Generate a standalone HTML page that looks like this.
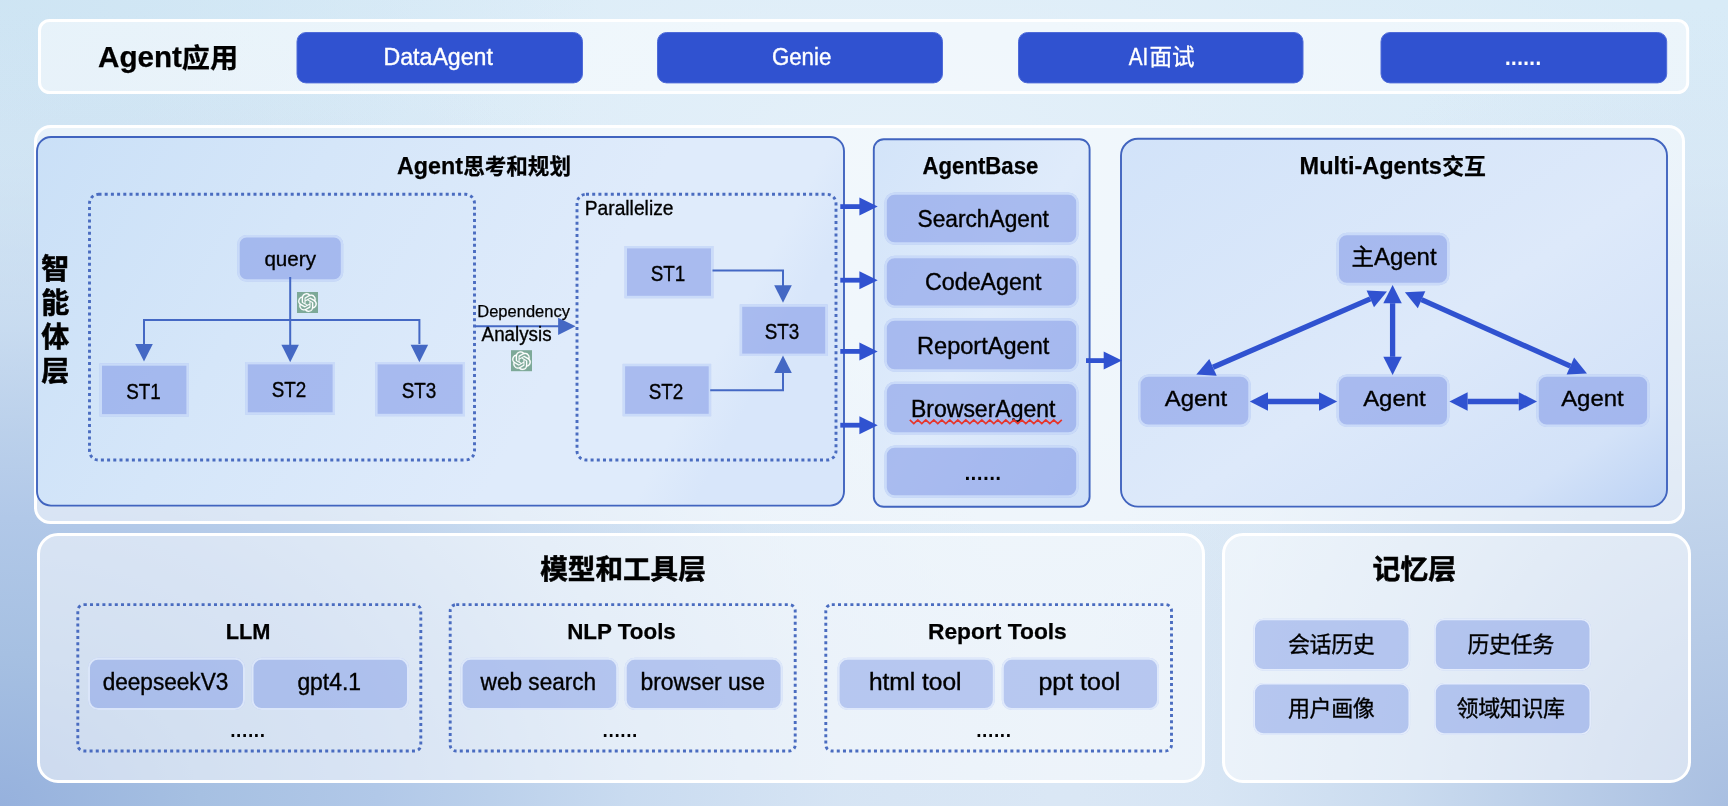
<!DOCTYPE html>
<html lang="zh"><head><meta charset="utf-8"><title>Agent Architecture</title>
<style>
html,body{margin:0;padding:0;}
body{width:1728px;height:806px;overflow:hidden;font-family:"Liberation Sans", "Noto Sans CJK SC", sans-serif;
background:
 radial-gradient(ellipse 1050px 800px at 0% 100%, rgba(150,177,221,1) 0%, rgba(166,192,226,1) 19%, rgba(177,200,232,1) 36%, rgba(184,206,234,0.9) 47%, rgba(194,214,238,0.7) 60%, rgba(205,222,241,0.3) 80%, rgba(215,230,245,0) 100%),
 radial-gradient(ellipse 650px 800px at 100% 100%, rgba(169,191,225,1) 0%, rgba(199,217,238,0.85) 50%, rgba(210,226,243,0.3) 80%, rgba(217,231,245,0) 100%),
 radial-gradient(ellipse 600px 500px at 0% 0%, rgba(205,228,243,0.9) 0%, rgba(210,231,245,0) 100%),
 radial-gradient(ellipse 800px 500px at 52% 20%, rgba(228,240,249,1) 0%, rgba(228,240,249,0) 100%),
 linear-gradient(180deg,#d8ebf7 0%,#dbeaf6 40%,#dae7f5 100%);}
svg{display:block;position:absolute;left:0;top:0;will-change:transform;}
</style></head><body>
<svg width="1728" height="806" viewBox="0 0 1728 806" font-family='"Liberation Sans", "Noto Sans CJK SC", sans-serif'>
<defs>
<linearGradient id="gPlan" x1="0" y1="0" x2="1" y2="0.25"><stop offset="0" stop-color="#cae0f7"/><stop offset="0.35" stop-color="#d5e6f9"/><stop offset="0.75" stop-color="#dfebfb"/><stop offset="0.93" stop-color="#dfebfb"/><stop offset="1" stop-color="#d8e6fa"/></linearGradient>
<linearGradient id="gBase" x1="0" y1="0" x2="1" y2="1"><stop offset="0" stop-color="#d3e4f9"/><stop offset="0.5" stop-color="#dfebfb"/><stop offset="1" stop-color="#cfe0f8"/></linearGradient>
<linearGradient id="gMulti" x1="0" y1="0" x2="1" y2="1"><stop offset="0" stop-color="#d2e3f9"/><stop offset="0.55" stop-color="#dde9fa"/><stop offset="0.85" stop-color="#d3e2f8"/><stop offset="1" stop-color="#bcd2f4"/></linearGradient>
<linearGradient id="gOuter" x1="0" y1="0" x2="1" y2="0"><stop offset="0" stop-color="#e4eefa" stop-opacity="0.9"/><stop offset="0.5" stop-color="#f1f6fc" stop-opacity="0.9"/><stop offset="1" stop-color="#e6eef9" stop-opacity="0.9"/></linearGradient>
<linearGradient id="gTop" x1="0" y1="0" x2="1" y2="0"><stop offset="0" stop-color="#e8f1fa"/><stop offset="0.5" stop-color="#eef4fc"/><stop offset="1" stop-color="#ecf3fb"/></linearGradient>
<linearGradient id="gBL" x1="0" y1="0" x2="1" y2="0"><stop offset="0" stop-color="#d9e6f5"/><stop offset="0.5" stop-color="#e9f0fa"/><stop offset="1" stop-color="#f0f5fc"/></linearGradient>
<linearGradient id="gMem" x1="0" y1="0" x2="1" y2="1"><stop offset="0" stop-color="#eef4fc"/><stop offset="0.6" stop-color="#e6eef9"/><stop offset="1" stop-color="#d9e5f5"/></linearGradient>
</defs>
<rect x="39.5" y="20.5" width="1648.2" height="72.0" rx="10" ry="10" fill="rgba(255,255,255,0.5)" stroke="#ffffff" stroke-width="3" />
<text font-weight="bold" fill="#000" stroke="#000" stroke-width="0.25"><tspan x="98.0" y="66.9" font-size="29.4" textLength="84.0" lengthAdjust="spacingAndGlyphs">Agent</tspan><tspan x="181.8" y="68.1" font-size="27.6" textLength="56.4" lengthAdjust="spacingAndGlyphs">应用</tspan></text>
<rect x="297.0" y="32.5" width="285.5" height="50.4" rx="9" ry="9" fill="#3052d0" stroke="#4f6bd8" stroke-width="1" />
<text x="438.2" y="65.0" font-size="23.5" font-weight="normal" fill="#fff" stroke="#fff" stroke-width="0.38" text-anchor="middle" textLength="109.5" lengthAdjust="spacingAndGlyphs" >DataAgent</text>
<rect x="657.5" y="32.5" width="285.0" height="50.4" rx="9" ry="9" fill="#3052d0" stroke="#4f6bd8" stroke-width="1" />
<text x="801.6" y="65.0" font-size="23.5" font-weight="normal" fill="#fff" stroke="#fff" stroke-width="0.38" text-anchor="middle" textLength="59.4" lengthAdjust="spacingAndGlyphs" >Genie</text>
<rect x="1018.5" y="32.5" width="284.5" height="50.4" rx="9" ry="9" fill="#3052d0" stroke="#4f6bd8" stroke-width="1" />
<text font-weight="normal" fill="#fff" stroke="#fff" stroke-width="0.35"><tspan x="1128.7" y="64.9" font-size="23.5" textLength="19.6" lengthAdjust="spacingAndGlyphs">AI</tspan><tspan x="1149.4" y="64.9" font-size="22.6">面试</tspan></text>
<rect x="1381.0" y="32.5" width="285.7" height="50.4" rx="9" ry="9" fill="#3052d0" stroke="#4f6bd8" stroke-width="1" />
<text x="1523.0" y="65.4" font-size="31" font-weight="normal" fill="#fff" stroke="#fff" stroke-width="0" text-anchor="middle" textLength="39.2" lengthAdjust="spacing" >......</text>
<rect x="35.5" y="126.5" width="1648.0" height="396.0" rx="15" ry="15" fill="rgba(255,255,255,0.5)" stroke="#ffffff" stroke-width="3" />
<rect x="37.0" y="137.0" width="807.0" height="368.6" rx="14" ry="14" fill="url(#gPlan)" stroke="#4164bf" stroke-width="1.9" />
<rect x="873.8" y="139.2" width="215.8" height="367.6" rx="10" ry="10" fill="url(#gBase)" stroke="#4164bf" stroke-width="1.9" />
<rect x="1121.0" y="138.8" width="546.0" height="367.8" rx="17" ry="17" fill="url(#gMulti)" stroke="#4164bf" stroke-width="1.9" />
<text font-weight="bold" fill="#000" stroke="#000" stroke-width="0.25"><tspan x="397.0" y="173.6" font-size="24" textLength="66.0" lengthAdjust="spacingAndGlyphs">Agent</tspan><tspan x="463.2" y="173.9" font-size="21.4" textLength="107.8" lengthAdjust="spacingAndGlyphs">思考和规划</tspan></text>
<text x="980.4" y="173.6" font-size="23.5" font-weight="bold" fill="#000" stroke="#000" stroke-width="0.25" text-anchor="middle" textLength="115.8" lengthAdjust="spacingAndGlyphs" >AgentBase</text>
<text font-weight="bold" fill="#000" stroke="#000" stroke-width="0.25"><tspan x="1299.6" y="173.6" font-size="24" textLength="142.3" lengthAdjust="spacingAndGlyphs">Multi-Agents</tspan><tspan x="1442.3" y="173.9" font-size="21.4" textLength="43.6" lengthAdjust="spacingAndGlyphs">交互</tspan></text>
<text font-size="28" font-weight="bold" fill="#000" stroke="#000" stroke-width="0.55" text-anchor="middle"><tspan x="55.3" y="278.5">智</tspan><tspan x="55.3" y="312.5">能</tspan><tspan x="55.3" y="346.5">体</tspan><tspan x="55.3" y="380.5">层</tspan></text>
<rect x="89.5" y="194.3" width="385.0" height="265.7" rx="9" ry="9" fill="none" stroke="#4a6cc0" stroke-width="2.9" stroke-dasharray="3 3.2"/>
<rect x="577.0" y="194.3" width="259.0" height="265.7" rx="9" ry="9" fill="none" stroke="#4a6cc0" stroke-width="2.9" stroke-dasharray="3 3.2"/>
<rect x="237.3" y="235.0" width="105.9" height="46.6" rx="9.2" ry="9.2" fill="rgba(126,150,230,0.56)" />
<rect x="238.5" y="236.2" width="103.5" height="44.2" rx="8" ry="8" fill="none" stroke="rgba(225,240,255,0.6)" stroke-width="2.4" />
<text x="290.2" y="266.2" font-size="20.5" font-weight="normal" fill="#000" stroke="#000" stroke-width="0.33" text-anchor="middle" textLength="51.6" lengthAdjust="spacingAndGlyphs" >query</text>
<path d="M290.2 277V345 M144 344V320H419.4V344" fill="none" stroke="#4468c4" stroke-width="2"/>
<path d="M135.2 344.0H152.8L144.0 361.5Z" fill="#4468c4"/>
<path d="M281.4 344.8H298.9L290.2 362.3Z" fill="#4468c4"/>
<path d="M410.6 344.8H428.1L419.4 362.3Z" fill="#4468c4"/>
<rect x="99.6" y="363.3" width="89.2" height="53.2" rx="0" ry="0" fill="rgba(126,150,230,0.56)" />
<rect x="100.8" y="364.5" width="86.8" height="50.8" rx="0" ry="0" fill="none" stroke="rgba(225,240,255,0.6)" stroke-width="2.4" />
<text x="143.5" y="399.0" font-size="22.5" font-weight="normal" fill="#000" stroke="#000" stroke-width="0.36" text-anchor="middle" textLength="34.6" lengthAdjust="spacingAndGlyphs" >ST1</text>
<rect x="245.4" y="362.0" width="89.6" height="52.7" rx="0" ry="0" fill="rgba(126,150,230,0.56)" />
<rect x="246.6" y="363.2" width="87.2" height="50.3" rx="0" ry="0" fill="none" stroke="rgba(225,240,255,0.6)" stroke-width="2.4" />
<text x="289.0" y="397.0" font-size="22.5" font-weight="normal" fill="#000" stroke="#000" stroke-width="0.36" text-anchor="middle" textLength="34.6" lengthAdjust="spacingAndGlyphs" >ST2</text>
<rect x="375.2" y="362.0" width="89.8" height="54.2" rx="0" ry="0" fill="rgba(126,150,230,0.56)" />
<rect x="376.4" y="363.2" width="87.4" height="51.8" rx="0" ry="0" fill="none" stroke="rgba(225,240,255,0.6)" stroke-width="2.4" />
<text x="419.0" y="398.0" font-size="22.5" font-weight="normal" fill="#000" stroke="#000" stroke-width="0.36" text-anchor="middle" textLength="34.6" lengthAdjust="spacingAndGlyphs" >ST3</text>
<path d="M475 326.3H560" fill="none" stroke="#4468c4" stroke-width="2"/>
<path d="M558.1 317.7V334.9L575.6 326.3Z" fill="#4468c4"/>
<text x="523.6" y="317.4" font-size="15.8" font-weight="normal" fill="#000" stroke="#000" stroke-width="0.25" text-anchor="middle" textLength="92.6" lengthAdjust="spacingAndGlyphs" >Dependency</text>
<text x="516.6" y="341.4" font-size="19.4" font-weight="normal" fill="#000" stroke="#000" stroke-width="0.31" text-anchor="middle" textLength="70.0" lengthAdjust="spacingAndGlyphs" >Analysis</text>
<text x="584.7" y="215.3" font-size="19.8" font-weight="normal" fill="#000" stroke="#000" stroke-width="0.32" text-anchor="start" textLength="88.8" lengthAdjust="spacingAndGlyphs" >Parallelize</text>
<rect x="624.6" y="246.0" width="88.8" height="52.2" rx="0" ry="0" fill="rgba(126,150,230,0.56)" />
<rect x="625.8" y="247.2" width="86.4" height="49.8" rx="0" ry="0" fill="none" stroke="rgba(225,240,255,0.6)" stroke-width="2.4" />
<text x="668.0" y="281.0" font-size="22.5" font-weight="normal" fill="#000" stroke="#000" stroke-width="0.36" text-anchor="middle" textLength="34.6" lengthAdjust="spacingAndGlyphs" >ST1</text>
<rect x="739.8" y="304.4" width="87.8" height="51.6" rx="0" ry="0" fill="rgba(126,150,230,0.56)" />
<rect x="741.0" y="305.6" width="85.4" height="49.2" rx="0" ry="0" fill="none" stroke="rgba(225,240,255,0.6)" stroke-width="2.4" />
<text x="782.0" y="339.0" font-size="22.5" font-weight="normal" fill="#000" stroke="#000" stroke-width="0.36" text-anchor="middle" textLength="34.6" lengthAdjust="spacingAndGlyphs" >ST3</text>
<rect x="622.7" y="363.9" width="88.4" height="52.3" rx="0" ry="0" fill="rgba(126,150,230,0.56)" />
<rect x="623.9" y="365.1" width="86.0" height="49.9" rx="0" ry="0" fill="none" stroke="rgba(225,240,255,0.6)" stroke-width="2.4" />
<text x="666.0" y="399.0" font-size="22.5" font-weight="normal" fill="#000" stroke="#000" stroke-width="0.36" text-anchor="middle" textLength="34.6" lengthAdjust="spacingAndGlyphs" >ST2</text>
<path d="M712.5 270.4H783V287 M710.2 390.2H783V372" fill="none" stroke="#4468c4" stroke-width="2"/>
<path d="M774.2 285.3H791.8L783.0 302.8Z" fill="#4468c4"/>
<path d="M774.2 373.1H791.8L783.0 355.6Z" fill="#4468c4"/>
<g transform="translate(297,292)"><rect width="21" height="21" fill="#7da998"/><path transform="translate(1.1,1.1) scale(0.7833)" fill="#fff" stroke="#fff" stroke-width="0.25" d="M22.2819 9.8211a5.9847 5.9847 0 0 0-.5157-4.9108 6.0462 6.0462 0 0 0-6.5098-2.9A6.0651 6.0651 0 0 0 4.9807 4.1818a5.9847 5.9847 0 0 0-3.9977 2.9 6.0462 6.0462 0 0 0 .7427 7.0966 5.98 5.98 0 0 0 .511 4.9107 6.051 6.051 0 0 0 6.5146 2.9001A5.9847 5.9847 0 0 0 13.2599 24a6.0557 6.0557 0 0 0 5.7718-4.2058 5.9894 5.9894 0 0 0 3.9977-2.9001 6.0557 6.0557 0 0 0-.7475-7.0729zm-9.022 12.6081a4.4755 4.4755 0 0 1-2.8764-1.0408l.1419-.0804 4.7783-2.7582a.7948.7948 0 0 0 .3927-.6813v-6.7369l2.02 1.1686a.071.071 0 0 1 .038.052v5.5826a4.504 4.504 0 0 1-4.4945 4.4944zm-9.6607-4.1254a4.4708 4.4708 0 0 1-.5346-3.0137l.142.0852 4.783 2.7582a.7712.7712 0 0 0 .7806 0l5.8428-3.3685v2.3324a.0804.0804 0 0 1-.0332.0615L9.74 19.9502a4.4992 4.4992 0 0 1-6.1408-1.6464zM2.3408 7.8956a4.485 4.485 0 0 1 2.3655-1.9728V11.6a.7664.7664 0 0 0 .3879.6765l5.8144 3.3543-2.0201 1.1685a.0757.0757 0 0 1-.071 0l-4.8303-2.7865A4.504 4.504 0 0 1 2.3408 7.872zm16.5963 3.8558L13.1038 8.364 15.1192 7.2a.0757.0757 0 0 1 .071 0l4.8303 2.7913a4.4944 4.4944 0 0 1-.6765 8.1042v-5.6772a.79.79 0 0 0-.407-.667zm2.0107-3.0231l-.142-.0852-4.7735-2.7818a.7759.7759 0 0 0-.7854 0L9.409 9.2297V6.8974a.0662.0662 0 0 1 .0284-.0615l4.8303-2.7866a4.4992 4.4992 0 0 1 6.6802 4.66zM8.3065 12.863l-2.02-1.1638a.0804.0804 0 0 1-.038-.0567V6.0742a4.4992 4.4992 0 0 1 7.3757-3.4537l-.142.0805L8.704 5.459a.7948.7948 0 0 0-.3927.6813zm1.0976-2.3654l2.602-1.4998 2.6069 1.4998v2.9994l-2.5974 1.4997-2.6067-1.4997Z"/></g>
<g transform="translate(511,350.2)"><rect width="21" height="21" fill="#7da998"/><path transform="translate(1.1,1.1) scale(0.7833)" fill="#fff" stroke="#fff" stroke-width="0.25" d="M22.2819 9.8211a5.9847 5.9847 0 0 0-.5157-4.9108 6.0462 6.0462 0 0 0-6.5098-2.9A6.0651 6.0651 0 0 0 4.9807 4.1818a5.9847 5.9847 0 0 0-3.9977 2.9 6.0462 6.0462 0 0 0 .7427 7.0966 5.98 5.98 0 0 0 .511 4.9107 6.051 6.051 0 0 0 6.5146 2.9001A5.9847 5.9847 0 0 0 13.2599 24a6.0557 6.0557 0 0 0 5.7718-4.2058 5.9894 5.9894 0 0 0 3.9977-2.9001 6.0557 6.0557 0 0 0-.7475-7.0729zm-9.022 12.6081a4.4755 4.4755 0 0 1-2.8764-1.0408l.1419-.0804 4.7783-2.7582a.7948.7948 0 0 0 .3927-.6813v-6.7369l2.02 1.1686a.071.071 0 0 1 .038.052v5.5826a4.504 4.504 0 0 1-4.4945 4.4944zm-9.6607-4.1254a4.4708 4.4708 0 0 1-.5346-3.0137l.142.0852 4.783 2.7582a.7712.7712 0 0 0 .7806 0l5.8428-3.3685v2.3324a.0804.0804 0 0 1-.0332.0615L9.74 19.9502a4.4992 4.4992 0 0 1-6.1408-1.6464zM2.3408 7.8956a4.485 4.485 0 0 1 2.3655-1.9728V11.6a.7664.7664 0 0 0 .3879.6765l5.8144 3.3543-2.0201 1.1685a.0757.0757 0 0 1-.071 0l-4.8303-2.7865A4.504 4.504 0 0 1 2.3408 7.872zm16.5963 3.8558L13.1038 8.364 15.1192 7.2a.0757.0757 0 0 1 .071 0l4.8303 2.7913a4.4944 4.4944 0 0 1-.6765 8.1042v-5.6772a.79.79 0 0 0-.407-.667zm2.0107-3.0231l-.142-.0852-4.7735-2.7818a.7759.7759 0 0 0-.7854 0L9.409 9.2297V6.8974a.0662.0662 0 0 1 .0284-.0615l4.8303-2.7866a4.4992 4.4992 0 0 1 6.6802 4.66zM8.3065 12.863l-2.02-1.1638a.0804.0804 0 0 1-.038-.0567V6.0742a4.4992 4.4992 0 0 1 7.3757-3.4537l-.142.0805L8.704 5.459a.7948.7948 0 0 0-.3927.6813zm1.0976-2.3654l2.602-1.4998 2.6069 1.4998v2.9994l-2.5974 1.4997-2.6067-1.4997Z"/></g>
<path d="M840.3 206.6H862" fill="none" stroke="#3052d0" stroke-width="4.8"/>
<path d="M859.4 197.6V215.6L877.7 206.6Z" fill="#3052d0"/>
<path d="M840.3 280.2H862" fill="none" stroke="#3052d0" stroke-width="4.8"/>
<path d="M859.4 271.2V289.2L877.7 280.2Z" fill="#3052d0"/>
<path d="M840.3 351.4H862" fill="none" stroke="#3052d0" stroke-width="4.8"/>
<path d="M859.4 342.4V360.4L877.7 351.4Z" fill="#3052d0"/>
<path d="M840.3 425.2H862" fill="none" stroke="#3052d0" stroke-width="4.8"/>
<path d="M859.4 416.2V434.2L877.7 425.2Z" fill="#3052d0"/>
<path d="M1086 360.6H1106" fill="none" stroke="#3052d0" stroke-width="4.8"/>
<path d="M1103.7 351.6V369.6L1122.0 360.6Z" fill="#3052d0"/>
<rect x="884.4" y="192.4" width="194.2" height="52.3" rx="10.2" ry="10.2" fill="rgba(126,150,230,0.56)" />
<rect x="885.6" y="193.6" width="191.8" height="49.9" rx="9" ry="9" fill="none" stroke="rgba(225,240,255,0.6)" stroke-width="2.4" />
<text x="983.2" y="227.1" font-size="23" font-weight="normal" fill="#000" stroke="#000" stroke-width="0.37" text-anchor="middle" textLength="131.3" lengthAdjust="spacingAndGlyphs" >SearchAgent</text>
<rect x="884.4" y="255.8" width="194.2" height="52.0" rx="10.2" ry="10.2" fill="rgba(126,150,230,0.56)" />
<rect x="885.6" y="257.0" width="191.8" height="49.6" rx="9" ry="9" fill="none" stroke="rgba(225,240,255,0.6)" stroke-width="2.4" />
<text x="983.2" y="290.3" font-size="23" font-weight="normal" fill="#000" stroke="#000" stroke-width="0.37" text-anchor="middle" textLength="116.4" lengthAdjust="spacingAndGlyphs" >CodeAgent</text>
<rect x="884.4" y="318.3" width="194.2" height="53.4" rx="10.2" ry="10.2" fill="rgba(126,150,230,0.56)" />
<rect x="885.6" y="319.5" width="191.8" height="51.0" rx="9" ry="9" fill="none" stroke="rgba(225,240,255,0.6)" stroke-width="2.4" />
<text x="983.2" y="353.5" font-size="23" font-weight="normal" fill="#000" stroke="#000" stroke-width="0.37" text-anchor="middle" textLength="132.4" lengthAdjust="spacingAndGlyphs" >ReportAgent</text>
<rect x="884.4" y="381.7" width="194.2" height="52.9" rx="10.2" ry="10.2" fill="rgba(126,150,230,0.56)" />
<rect x="885.6" y="382.9" width="191.8" height="50.5" rx="9" ry="9" fill="none" stroke="rgba(225,240,255,0.6)" stroke-width="2.4" />
<text x="983.2" y="416.6" font-size="23" font-weight="normal" fill="#000" stroke="#000" stroke-width="0.37" text-anchor="middle" textLength="144.4" lengthAdjust="spacingAndGlyphs" >BrowserAgent</text>
<rect x="884.4" y="445.4" width="194.2" height="52.3" rx="10.2" ry="10.2" fill="rgba(126,150,230,0.56)" />
<rect x="885.6" y="446.6" width="191.8" height="49.9" rx="9" ry="9" fill="none" stroke="rgba(225,240,255,0.6)" stroke-width="2.4" />
<text x="982.8" y="479.7" font-size="30" font-weight="normal" fill="#000" stroke="#000" stroke-width="0" text-anchor="middle" textLength="39.3" lengthAdjust="spacing" >......</text>
<path d="M909.8 419.8L913.8 423.5L917.8 419.8L921.8 423.5L925.8 419.8L929.8 423.5L933.8 419.8L937.8 423.5L941.8 419.8L945.8 423.5L949.8 419.8L953.8 423.5L957.8 419.8L961.8 423.5L965.8 419.8L969.8 423.5L973.8 419.8L977.8 423.5L981.8 419.8L985.8 423.5L989.8 419.8L993.8 423.5L997.8 419.8L1001.8 423.5L1005.8 419.8L1009.8 423.5L1013.8 419.8L1017.8 423.5L1021.8 419.8L1025.8 423.5L1029.8 419.8L1033.8 423.5L1037.8 419.8L1041.8 423.5L1045.8 419.8L1049.8 423.5L1053.8 419.8L1057.8 423.5L1061.8 419.8" fill="none" stroke="#e6352b" stroke-width="1.7" stroke-linejoin="miter"/>
<rect x="1336.6" y="232.8" width="112.8" height="52.4" rx="10.2" ry="10.2" fill="rgba(126,150,230,0.56)" />
<rect x="1337.8" y="234.0" width="110.4" height="50.0" rx="9" ry="9" fill="none" stroke="rgba(225,240,255,0.6)" stroke-width="2.4" />
<text font-weight="normal" fill="#000" stroke="#000" stroke-width="0.35"><tspan x="1351.6" y="265.0" font-size="22.5">主</tspan><tspan x="1374.0" y="265.0" font-size="23" textLength="62.6" lengthAdjust="spacingAndGlyphs">Agent</tspan></text>
<rect x="1138.2" y="374.4" width="112.5" height="52.5" rx="10.2" ry="10.2" fill="rgba(126,150,230,0.56)" />
<rect x="1139.4" y="375.6" width="110.1" height="50.1" rx="9" ry="9" fill="none" stroke="rgba(225,240,255,0.6)" stroke-width="2.4" />
<text x="1196.0" y="406.0" font-size="22.5" font-weight="normal" fill="#000" stroke="#000" stroke-width="0.36" text-anchor="middle" textLength="62.5" lengthAdjust="spacingAndGlyphs" >Agent</text>
<rect x="1336.6" y="374.4" width="112.8" height="52.5" rx="10.2" ry="10.2" fill="rgba(126,150,230,0.56)" />
<rect x="1337.8" y="375.6" width="110.4" height="50.1" rx="9" ry="9" fill="none" stroke="rgba(225,240,255,0.6)" stroke-width="2.4" />
<text x="1394.4" y="406.0" font-size="22.5" font-weight="normal" fill="#000" stroke="#000" stroke-width="0.36" text-anchor="middle" textLength="62.5" lengthAdjust="spacingAndGlyphs" >Agent</text>
<rect x="1536.4" y="374.4" width="113.1" height="52.5" rx="10.2" ry="10.2" fill="rgba(126,150,230,0.56)" />
<rect x="1537.6" y="375.6" width="110.7" height="50.1" rx="9" ry="9" fill="none" stroke="rgba(225,240,255,0.6)" stroke-width="2.4" />
<text x="1592.4" y="406.0" font-size="22.5" font-weight="normal" fill="#000" stroke="#000" stroke-width="0.36" text-anchor="middle" textLength="62.5" lengthAdjust="spacingAndGlyphs" >Agent</text>
<path d="M1392.6 303.2L1392.6 356.8" stroke="#3052d0" stroke-width="5.3" fill="none"/>
<path d="M1392.6 285.0L1383.3 303.2L1401.8 303.2Z" fill="#3052d0"/>
<path d="M1392.6 375.0L1383.3 356.8L1401.8 356.8Z" fill="#3052d0"/>
<path d="M1370.3 298.9L1213.0 367.3" stroke="#3052d0" stroke-width="5.3" fill="none"/>
<path d="M1387.0 291.6L1366.6 290.4L1374.0 307.3Z" fill="#3052d0"/>
<path d="M1196.3 374.6L1209.3 358.9L1216.7 375.8Z" fill="#3052d0"/>
<path d="M1421.5 299.7L1570.4 366.1" stroke="#3052d0" stroke-width="5.3" fill="none"/>
<path d="M1404.9 292.3L1417.8 308.2L1425.3 291.3Z" fill="#3052d0"/>
<path d="M1587.0 373.5L1566.6 374.5L1574.1 357.6Z" fill="#3052d0"/>
<path d="M1268.0 401.5L1319.0 401.5" stroke="#3052d0" stroke-width="5.3" fill="none"/>
<path d="M1249.8 401.5L1268.0 410.8L1268.0 392.2Z" fill="#3052d0"/>
<path d="M1337.2 401.5L1319.0 410.8L1319.0 392.2Z" fill="#3052d0"/>
<path d="M1467.6 401.5L1518.8 401.5" stroke="#3052d0" stroke-width="5.3" fill="none"/>
<path d="M1449.4 401.5L1467.6 410.8L1467.6 392.2Z" fill="#3052d0"/>
<path d="M1537.0 401.5L1518.8 410.8L1518.8 392.2Z" fill="#3052d0"/>
<rect x="38.5" y="534.5" width="1165.0" height="247.0" rx="19.5" ry="19.5" fill="rgba(255,255,255,0.5)" stroke="#ffffff" stroke-width="3" />
<rect x="1223.5" y="534.5" width="466.0" height="247.0" rx="19.5" ry="19.5" fill="rgba(255,255,255,0.5)" stroke="#ffffff" stroke-width="3" />
<text x="623.0" y="578.5" font-size="27.6" font-weight="bold" fill="#000" stroke="#000" stroke-width="0.55" text-anchor="middle" >模型和工具层</text>
<text x="1414.3" y="578.5" font-size="27.8" font-weight="bold" fill="#000" stroke="#000" stroke-width="0.55" text-anchor="middle" >记忆层</text>
<rect x="77.8" y="604.6" width="343.0" height="146.4" rx="6" ry="6" fill="none" stroke="#4a6cc0" stroke-width="2.9" stroke-dasharray="3 3.2"/>
<text x="248.1" y="638.5" font-size="22.8" font-weight="bold" fill="#000" stroke="#000" stroke-width="0.25" text-anchor="middle" textLength="44.8" lengthAdjust="spacingAndGlyphs" >LLM</text>
<rect x="88.0" y="657.8" width="157.0" height="52.2" rx="10.0" ry="10.0" fill="rgba(130,155,230,0.5)" />
<rect x="89.0" y="658.8" width="155.0" height="50.2" rx="9" ry="9" fill="none" stroke="rgba(240,246,255,0.7)" stroke-width="2.0" />
<text x="165.5" y="690.0" font-size="23" font-weight="normal" fill="#000" stroke="#000" stroke-width="0.37" text-anchor="middle" textLength="125.6" lengthAdjust="spacingAndGlyphs" >deepseekV3</text>
<rect x="251.5" y="657.8" width="157.5" height="52.2" rx="10.0" ry="10.0" fill="rgba(130,155,230,0.5)" />
<rect x="252.5" y="658.8" width="155.5" height="50.2" rx="9" ry="9" fill="none" stroke="rgba(240,246,255,0.7)" stroke-width="2.0" />
<text x="329.2" y="690.0" font-size="23" font-weight="normal" fill="#000" stroke="#000" stroke-width="0.37" text-anchor="middle" textLength="63.6" lengthAdjust="spacingAndGlyphs" >gpt4.1</text>
<text x="247.6" y="737.4" font-size="28" font-weight="normal" fill="#000" stroke="#000" stroke-width="0" text-anchor="middle" textLength="37.3" lengthAdjust="spacing" >......</text>
<rect x="450.2" y="604.6" width="345.0" height="146.4" rx="6" ry="6" fill="none" stroke="#4a6cc0" stroke-width="2.9" stroke-dasharray="3 3.2"/>
<text x="621.5" y="638.5" font-size="22.8" font-weight="bold" fill="#000" stroke="#000" stroke-width="0.25" text-anchor="middle" textLength="108.7" lengthAdjust="spacingAndGlyphs" >NLP Tools</text>
<rect x="460.6" y="657.8" width="157.6" height="52.2" rx="10.0" ry="10.0" fill="rgba(130,155,230,0.5)" />
<rect x="461.6" y="658.8" width="155.6" height="50.2" rx="9" ry="9" fill="none" stroke="rgba(240,246,255,0.7)" stroke-width="2.0" />
<text x="538.4" y="690.0" font-size="23" font-weight="normal" fill="#000" stroke="#000" stroke-width="0.37" text-anchor="middle" textLength="115.6" lengthAdjust="spacingAndGlyphs" >web search</text>
<rect x="624.7" y="657.8" width="157.9" height="52.2" rx="10.0" ry="10.0" fill="rgba(130,155,230,0.5)" />
<rect x="625.7" y="658.8" width="155.9" height="50.2" rx="9" ry="9" fill="none" stroke="rgba(240,246,255,0.7)" stroke-width="2.0" />
<text x="702.7" y="690.0" font-size="23" font-weight="normal" fill="#000" stroke="#000" stroke-width="0.37" text-anchor="middle" textLength="124.5" lengthAdjust="spacingAndGlyphs" >browser use</text>
<text x="620.0" y="737.4" font-size="28" font-weight="normal" fill="#000" stroke="#000" stroke-width="0" text-anchor="middle" textLength="37.3" lengthAdjust="spacing" >......</text>
<rect x="825.8" y="604.6" width="345.7" height="146.4" rx="6" ry="6" fill="none" stroke="#4a6cc0" stroke-width="2.9" stroke-dasharray="3 3.2"/>
<text x="997.4" y="638.5" font-size="22.8" font-weight="bold" fill="#000" stroke="#000" stroke-width="0.25" text-anchor="middle" textLength="138.8" lengthAdjust="spacingAndGlyphs" >Report Tools</text>
<rect x="837.6" y="657.8" width="157.2" height="52.2" rx="10.0" ry="10.0" fill="rgba(130,155,230,0.5)" />
<rect x="838.6" y="658.8" width="155.2" height="50.2" rx="9" ry="9" fill="none" stroke="rgba(240,246,255,0.7)" stroke-width="2.0" />
<text x="915.2" y="690.0" font-size="23" font-weight="normal" fill="#000" stroke="#000" stroke-width="0.37" text-anchor="middle" textLength="92.5" lengthAdjust="spacingAndGlyphs" >html tool</text>
<rect x="1001.8" y="657.8" width="157.2" height="52.2" rx="10.0" ry="10.0" fill="rgba(130,155,230,0.5)" />
<rect x="1002.8" y="658.8" width="155.2" height="50.2" rx="9" ry="9" fill="none" stroke="rgba(240,246,255,0.7)" stroke-width="2.0" />
<text x="1079.4" y="690.0" font-size="23" font-weight="normal" fill="#000" stroke="#000" stroke-width="0.37" text-anchor="middle" textLength="81.9" lengthAdjust="spacingAndGlyphs" >ppt tool</text>
<text x="993.6" y="737.4" font-size="28" font-weight="normal" fill="#000" stroke="#000" stroke-width="0" text-anchor="middle" textLength="37.3" lengthAdjust="spacing" >......</text>
<rect x="1253.4" y="618.7" width="156.7" height="51.8" rx="9.8" ry="9.8" fill="rgba(130,155,230,0.5)" />
<rect x="1254.2" y="619.5" width="155.1" height="50.2" rx="9" ry="9" fill="none" stroke="rgba(240,246,255,0.8)" stroke-width="1.6" />
<text x="1331.2" y="652.1" font-size="22" font-weight="normal" fill="#000" stroke="#000" stroke-width="0.35" text-anchor="middle" letter-spacing="-0.4" >会话历史</text>
<rect x="1434.2" y="618.7" width="156.9" height="51.8" rx="9.8" ry="9.8" fill="rgba(130,155,230,0.5)" />
<rect x="1435.0" y="619.5" width="155.3" height="50.2" rx="9" ry="9" fill="none" stroke="rgba(240,246,255,0.8)" stroke-width="1.6" />
<text x="1510.6" y="652.1" font-size="22" font-weight="normal" fill="#000" stroke="#000" stroke-width="0.35" text-anchor="middle" letter-spacing="-0.4" >历史任务</text>
<rect x="1253.4" y="683.0" width="156.7" height="51.8" rx="9.8" ry="9.8" fill="rgba(130,155,230,0.5)" />
<rect x="1254.2" y="683.8" width="155.1" height="50.2" rx="9" ry="9" fill="none" stroke="rgba(240,246,255,0.8)" stroke-width="1.6" />
<text x="1331.2" y="716.4" font-size="22" font-weight="normal" fill="#000" stroke="#000" stroke-width="0.35" text-anchor="middle" letter-spacing="-0.4" >用户画像</text>
<rect x="1434.2" y="683.0" width="156.9" height="51.8" rx="9.8" ry="9.8" fill="rgba(130,155,230,0.5)" />
<rect x="1435.0" y="683.8" width="155.3" height="50.2" rx="9" ry="9" fill="none" stroke="rgba(240,246,255,0.8)" stroke-width="1.6" />
<text x="1510.6" y="716.4" font-size="22" font-weight="normal" fill="#000" stroke="#000" stroke-width="0.35" text-anchor="middle" letter-spacing="-0.4" >领域知识库</text>
</svg>
</body></html>
